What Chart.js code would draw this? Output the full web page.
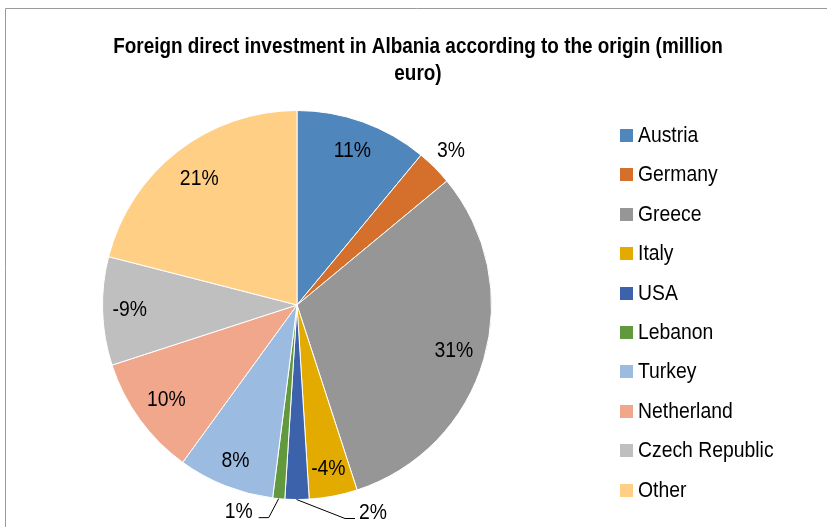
<!DOCTYPE html>
<html>
<head>
<meta charset="utf-8">
<script src="https://cdn.jsdelivr.net/npm/chart.js@4.4.1/dist/chart.umd.min.js"></script>
<style>
  html, body { margin: 0; padding: 0; background: #fff; }
  #wrap { width: 827px; height: 527px; position: relative; }
</style>
</head>
<body>
<div id="wrap"><canvas id="pie" width="827" height="527"></canvas></div>
<script>
const countries = ['Austria', 'Germany', 'Greece', 'Italy', 'USA', 'Lebanon', 'Turkey', 'Netherland', 'Czech Republic', 'Other'];
// share in percent, sign as printed on the chart
const shares = [11, 3, 31, -4, 2, 1, 8, 10, -9, 21];
const colors = ['#4F87BD', '#D4702C', '#969696', '#E3AB00', '#3D62AC', '#62993E', '#9BBBE1', '#F0A78B', '#BFBFBF', '#FFCF86'];

const titleLines = ['Foreign direct investment in Albania according to the origin (million', 'euro)'];

// where each percent label goes: inside (r = fraction of radius) or outside with a leader line
const labelStyle = [
    { r: 0.84 },
    { r: 1.12, da: 0 },
    { r: 0.84 },
    { r: 0.86 },
    { leader: [[-0.5, 0], [48, 19], [58, 19]], tx: 76, ty: 13, align: 'center' },
    { leader: [[0, 0], [-10, 19], [-20, 19]], tx: -40, ty: 13, align: 'center' },
    { r: 0.86 },
    { r: 0.83 },
    { r: 0.86 },
    { r: 0.82 }
];

const FONT = '"Liberation Sans", Arial, sans-serif';
const SQUISH = 0.88;

function drawText(ctx, txt, x, y, size, bold, align) {
    ctx.save();
    ctx.font = (bold ? 'bold ' : '') + size + 'px ' + FONT;
    ctx.textBaseline = 'middle';
    ctx.fillStyle = '#000';
    const w = ctx.measureText(txt).width * SQUISH;
    let left = x;
    if (align === 'center') left = x - w / 2;
    if (align === 'right') left = x - w;
    ctx.translate(left, y);
    ctx.scale(SQUISH, 1);
    ctx.textAlign = 'left';
    ctx.fillText(txt, 0, 0);
    ctx.restore();
}

const extras = {
    id: 'extras',
    beforeDraw(chart) {
        const ctx = chart.ctx;
        ctx.save();
        ctx.fillStyle = '#fff';
        ctx.fillRect(0, 0, chart.width, chart.height);
        ctx.strokeStyle = '#9A9A9A';
        ctx.lineWidth = 1;
        ctx.beginPath();
        ctx.moveTo(5.5, chart.height);
        ctx.lineTo(5.5, 8.5);
        ctx.lineTo(chart.width, 8.5);
        ctx.stroke();
        ctx.restore();
    },
    afterDraw(chart) {
        const ctx = chart.ctx;
        // title
        drawText(ctx, titleLines[0], 418, 47, 21.5, true, 'center');
        drawText(ctx, titleLines[1], 418, 74, 21.5, true, 'center');

        // percent labels
        const arcs = chart.getDatasetMeta(0).data;
        arcs.forEach((arc, i) => {
            const p = arc.getProps(['x', 'y', 'startAngle', 'endAngle', 'outerRadius'], true);
            const st = labelStyle[i];
            const txt = shares[i] + '%';
            if (st.leader) {
                const mid = (p.startAngle + p.endAngle) / 2;
                const ex = p.x + Math.cos(mid) * p.outerRadius;
                const ey = p.y + Math.sin(mid) * p.outerRadius;
                ctx.save();
                ctx.strokeStyle = '#000';
                ctx.lineWidth = 1;
                ctx.beginPath();
                st.leader.forEach((pt, k) => {
                    const lx = ex + pt[0], ly = ey + pt[1];
                    if (k === 0) ctx.moveTo(lx, ly); else ctx.lineTo(lx, ly);
                });
                ctx.stroke();
                ctx.restore();
                drawText(ctx, txt, ex + st.tx, ey + st.ty, 22, false, st.align);
            } else {
                const mid = (p.startAngle + p.endAngle) / 2 + (st.da || 0) * Math.PI / 180;
                const r = p.outerRadius * st.r;
                drawText(ctx, txt, p.x + Math.cos(mid) * r, p.y + Math.sin(mid) * r, 22, false, 'center');
            }
        });

        // legend
        countries.forEach((name, i) => {
            const y = 129 + i * 39.4;
            ctx.fillStyle = colors[i];
            ctx.fillRect(620, Math.round(y), 13, 13);
            drawText(ctx, name, 638, Math.round(y) + 7, 22, false, 'left');
        });
    }
};

new Chart(document.getElementById('pie'), {
    type: 'pie',
    data: {
        labels: countries,
        datasets: [{
            data: shares.map(v => Math.abs(v)),
            backgroundColor: colors,
            borderColor: '#fff',
            borderWidth: 1
        }]
    },
    options: {
        responsive: false,
        animation: false,
        layout: { padding: { left: 102, right: 335, top: 110, bottom: 27 } },
        plugins: {
            legend: { display: false },
            title: { display: false },
            tooltip: { enabled: false }
        }
    },
    plugins: [extras]
});
</script>
</body>
</html>
